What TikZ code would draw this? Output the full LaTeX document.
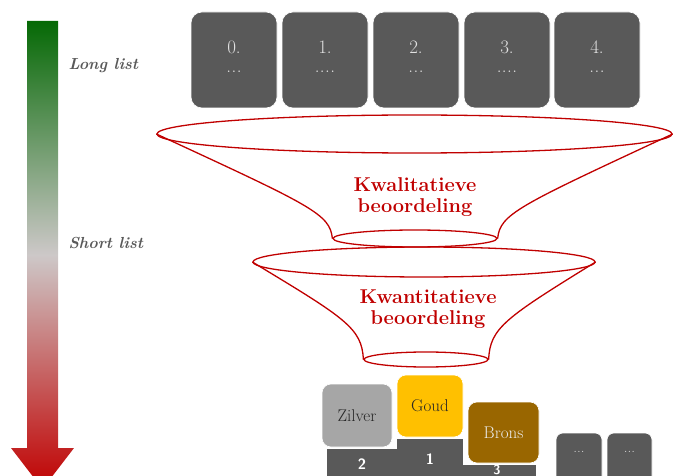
\documentclass[tikz,border=0pt]{standalone}
\usetikzlibrary{shapes.geometric}
\definecolor{boxgrey}{RGB}{89,89,89}
\definecolor{boxtext}{RGB}{225,225,225}
\definecolor{fred}{RGB}{192,0,0}
\definecolor{zilvercol}{RGB}{166,166,166}
\definecolor{goudcol}{RGB}{255,192,0}
\definecolor{bronscol}{RGB}{153,102,0}
\definecolor{agreen}{RGB}{5,105,5}
\definecolor{agrey}{RGB}{205,200,200}
\definecolor{ared}{RGB}{192,0,0}
\newcommand{\threedots}{.\kern0.5pt.\kern0.5pt.}
\newcommand{\fourdots}{.\kern0.5pt.\kern0.5pt.\kern0.5pt.}
\begin{document}
\begin{tikzpicture}[x=1pt,y=-1pt,
  listbox/.style={fill=boxgrey,draw=white,line width=0.6pt,rounded corners=11pt,minimum width=86pt,minimum height=96pt,inner sep=0pt},
  boxnum/.style={text=boxtext,font=\fontsize{19}{22}\selectfont},
  sidelabel/.style={text=boxgrey,font=\fontsize{16}{19}\selectfont\bfseries\itshape,anchor=west},
  funnelline/.style={draw=fred,line width=1.3pt},
  fell/.style={ellipse,funnelline,inner sep=0pt},
  ftext/.style={text=fred,font=\fontsize{20}{24}\selectfont\bfseries,align=center},
  medal/.style={rounded corners=9pt,draw=white,line width=0.6pt,inner sep=0pt,font=\fontsize{17}{20}\selectfont},
  podblock/.style={fill=boxgrey},
  podnum/.style={text=white,inner sep=0pt,font=\fontsize{15}{18}\selectfont\sffamily\bfseries}
]
\useasboundingbox (0,0) rectangle (686,476);
\clip (0,0) rectangle (686,476);

% gradient arrow
\shade[top color=agreen,bottom color=ared,middle color=agrey]
  (27,21) -- (58,21) -- (58,448) -- (74,448) -- (42.5,489) -- (11,448) -- (27,448) -- cycle;
\node[sidelabel] (long) at (65,66) {Long list};
\node[sidelabel] (short) at (65,243) {Short list};

% long list boxes
\node[listbox] (b0) at (234,60) {};
\node[boxnum] (n0) at (234,47) {0.};
\node[boxnum] (d0) at (234,72) {\threedots};
\node[listbox] (b1) at (325,60) {};
\node[boxnum] (n1) at (325,47) {1.};
\node[boxnum] (d1) at (325,72) {\fourdots};
\node[listbox] (b2) at (416,60) {};
\node[boxnum] (n2) at (416,47) {2.};
\node[boxnum] (d2) at (416,72) {\threedots};
\node[listbox] (b3) at (507,60) {};
\node[boxnum] (n3) at (507,47) {3.};
\node[boxnum] (d3) at (507,72) {\fourdots};
\node[listbox] (b4) at (597,60) {};
\node[boxnum] (n4) at (597,47) {4.};
\node[boxnum] (d4) at (597,72) {\threedots};

% funnel 1
\node[fell,minimum width=515pt,minimum height=38pt] (f1top) at (414.5,134) {};
\node[fell,minimum width=164pt,minimum height=17pt] (f1bot) at (415,238.5) {};
\draw[funnelline] (f1top.west) .. controls (312,206) and (330,214) .. (f1bot.west);
\draw[funnelline] (f1top.east) .. controls (518,206) and (500,214) .. (f1bot.east);
\node[ftext] (t1) at (415,197) {Kwalitatieve\\[-3pt]beoordeling};

% funnel 2
\node[fell,minimum width=342pt,minimum height=30pt] (f2top) at (424,262) {};
\node[fell,minimum width=124pt,minimum height=15pt] (f2bot) at (426,359.5) {};
\draw[funnelline] (f2top.west) .. controls (345,318) and (362,328) .. (f2bot.west);
\draw[funnelline] (f2top.east) .. controls (505,318) and (490,328) .. (f2bot.east);
\node[ftext] (t2) at (428,309.5) {Kwantitatieve\\[-3pt]beoordeling};

% podium
\node[medal,fill=zilvercol,text=black!85,minimum width=70pt,minimum height=63pt] (zilver) at (357,415.5) {Zilver};
\node[medal,fill=goudcol,text=black!85,minimum width=66pt,minimum height=62pt] (goud) at (430,406) {Goud};
\node[medal,fill=bronscol,text=white!92!black,minimum width=71pt,minimum height=61pt] (brons) at (503.5,432.5) {Brons};
\fill[podblock] (327,449) rectangle (397,480);
\fill[podblock] (397,439) rectangle (463,480);
\fill[podblock] (463,465) rectangle (536,480);
\node[podnum] (p2) at (362,464) {2};
\node[podnum] (p1) at (430,459) {1};
\node[podnum,font=\fontsize{13}{15}\selectfont\sffamily\bfseries] (p3) at (497,470) {3};

% remaining
\node[listbox,minimum width=46pt,minimum height=60pt,rounded corners=7pt] (r1) at (579,463) {};
\node[boxnum,font=\fontsize{12}{14}\selectfont] (rd1) at (579,452) {\threedots};
\node[listbox,minimum width=45pt,minimum height=60pt,rounded corners=7pt] (r2) at (629.5,463) {};
\node[boxnum,font=\fontsize{12}{14}\selectfont] (rd2) at (629.5,452) {\threedots};
\end{tikzpicture}
\end{document}
